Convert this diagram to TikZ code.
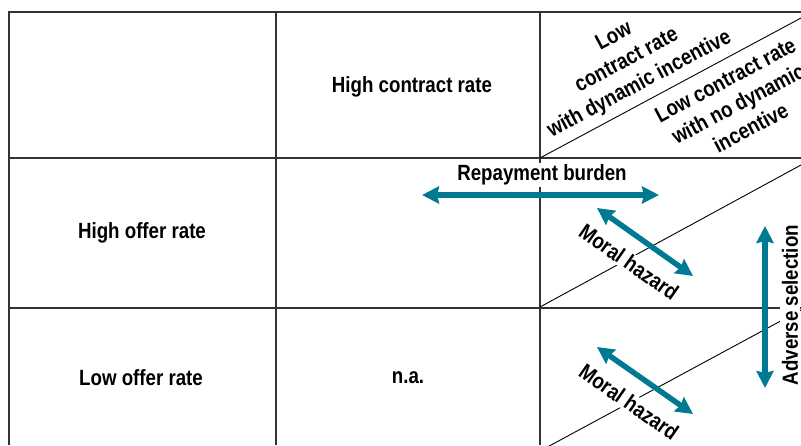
\documentclass[tikz,border=0pt]{standalone}
\usepackage{fontspec}
\setmainfont{Liberation Sans}[FakeStretch=0.85]
\usepackage{tikz}
\usetikzlibrary{arrows.meta}
\definecolor{arrowteal}{RGB}{0,121,146}

\begin{document}
\begin{tikzpicture}[
    x=1pt, y=-1pt,
    grid/.style={line width=1.3pt, black!80},
    diag/.style={line width=0.9pt, black},
    lbl/.style={font=\fontsize{22}{27}\selectfont\bfseries, inner sep=1pt, align=center},
    tag/.style={lbl, fill=white, inner sep=1.5pt},
    arr/.style={line width=5.5pt, arrowteal,
        {Stealth[length=17pt,width=17pt,inset=2pt]}-{Stealth[length=17pt,width=17pt,inset=2pt]}}
]

\clip (0,0) rectangle (801,445);

\draw[grid] (9,445) -- (9,12) -- (801,12);
\draw[grid] (276,12) -- (276,445);
\draw[grid] (540,12) -- (540,445);
\draw[grid] (9,158) -- (801,158);
\draw[grid] (9,308) -- (801,308);

\draw[diag] (540,158) -- (801,18);
\draw[diag] (540,307) -- (801,165);
\draw[diag] (540,451) -- (801,310);

\node[lbl] (hicontract) at (412,87) {High contract rate};
\node[lbl,rotate=28] (lowdyn) at (627,61) {Low\\contract rate\\with dynamic incentive};
\node[lbl,rotate=28] (lownodyn) at (738,104) {Low contract rate\\with no dynamic\\incentive};

\node[lbl] (hioffer) at (142,233) {High offer rate};
\node[lbl] (looffer) at (141,378) {Low offer rate};
\node[lbl] (na) at (408,378) {n.a.};

\node[tag] (burden) at (542,175) {Repayment burden};
\node[tag,rotate=-35] (moral1) at (629,262) {Moral hazard};
\node[tag,rotate=-35] (moral2) at (629,402) {Moral hazard};
\node[tag,rotate=90] (adverse) at (790,305) {Adverse selection};

\coordinate (burden-l) at (422,195);
\coordinate (burden-r) at (659,195);
\coordinate (moral1-a) at (597,208);
\coordinate (moral1-b) at (693,276);
\coordinate (moral2-a) at (597,347);
\coordinate (moral2-b) at (693,414);
\coordinate (adverse-t) at (765,226);
\coordinate (adverse-b) at (765,388);

\draw[arr] (burden-l) -- (burden-r);
\draw[arr] (moral1-a) -- (moral1-b);
\draw[arr] (moral2-a) -- (moral2-b);
\draw[arr] (adverse-t) -- (adverse-b);

\end{tikzpicture}
\end{document}
